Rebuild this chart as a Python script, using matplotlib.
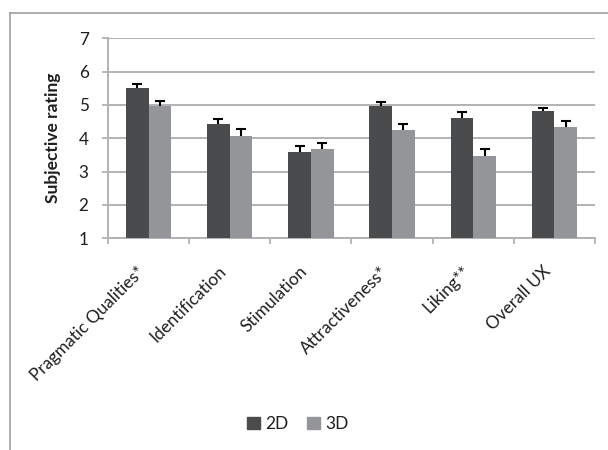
import matplotlib
matplotlib.use("Agg")
import matplotlib.pyplot as plt
import numpy as np
from matplotlib.lines import Line2D

categories = ["Pragmatic Qualities*", "Identification", "Stimulation",
              "Attractiveness*", "Liking**", "Overall UX"]
series_names = ["2D", "3D"]
values_2d = [5.52, 4.43, 3.60, 4.97, 4.62, 4.82]
values_3d = [4.98, 4.08, 3.68, 4.25, 3.47, 4.35]
err_2d = [0.12, 0.15, 0.17, 0.13, 0.18, 0.09]
err_3d = [0.15, 0.19, 0.19, 0.19, 0.22, 0.16]
y_ticks = [1, 2, 3, 4, 5, 6, 7]

plt.rcParams['font.family'] = ['Lato', 'DejaVu Sans']

W, H = 608, 450
fig = plt.figure(figsize=(W / 100, H / 100), dpi=100)
ax = fig.add_axes([108 / W, 1 - 238.3 / H, 487 / W, 200 / H])

dark = "#4a4b4d"
light = "#939598"
grid_c = "#b2b2b2"
text_c = "#1e1e1e"

x = np.arange(len(categories))
w = 0.28
for offset, vals, errs, col, name in [(-w / 2, values_2d, err_2d, dark, series_names[0]),
                                      (w / 2, values_3d, err_3d, light, series_names[1])]:
    ax.bar(x + offset, vals, w, color=col, zorder=3, label=name)
    _, caps, _ = ax.errorbar(x + offset, vals, yerr=[np.zeros(len(x)), errs], fmt="none",
                             ecolor="black", elinewidth=1.5, capsize=3.6, capthick=1.5,
                             zorder=4)
    caps[0].set_visible(False)  # upper error only

ax.set_ylim(1, 7)
ax.set_xlim(-0.5, len(categories) - 0.5)
ax.set_yticks(y_ticks)
ax.yaxis.grid(True, color=grid_c, linewidth=1.4, zorder=0)
ax.set_axisbelow(True)
for s in ["top", "right"]:
    ax.spines[s].set_visible(False)
for s in ["left", "bottom"]:
    ax.spines[s].set_color(grid_c)
    ax.spines[s].set_linewidth(1.4)
ax.tick_params(axis="y", length=4.5, color=grid_c, width=1.3, labelsize=12.3,
               pad=9.5, labelcolor=text_c)

# ticks sit on the category boundaries
ax.set_xticks(np.arange(-0.5, len(categories)))
ax.set_xticklabels([])
ax.tick_params(axis="x", length=4.5, color=grid_c, width=1.3)
for i, lab in enumerate(categories):
    ax.annotate(lab, xy=(i, 1), xycoords="data",
                xytext=(-8.5, -18), textcoords="offset points",
                rotation=45, rotation_mode="anchor", ha="right", va="top",
                fontsize=12.4, color=text_c)

fig.text(53 / W, 1 - 137.5 / H, "Subjective rating", rotation=90, ha="center",
         va="center", fontsize=12.5, fontweight="bold", color=text_c)

handles = [plt.Rectangle((0, 0), 1, 1, color=dark), plt.Rectangle((0, 0), 1, 1, color=light)]
leg = fig.legend(handles, series_names, loc="center", bbox_to_anchor=(298 / W, 1 - 424 / H),
                 ncol=2, frameon=False, fontsize=12.5, handlelength=0.72, handleheight=0.72,
                 handletextpad=0.3, columnspacing=1.1)
for t in leg.get_texts():
    t.set_color(text_c)

# outer chart frame
fig.add_artist(Line2D([10 / W, 1], [1 - 13 / H, 1 - 13 / H], color="#a0a0a0", linewidth=1.2))
fig.add_artist(Line2D([10 / W, 10 / W], [1 - 13 / H, 0], color="#a0a0a0", linewidth=1.2))

fig.savefig("out.png", dpi=100)
